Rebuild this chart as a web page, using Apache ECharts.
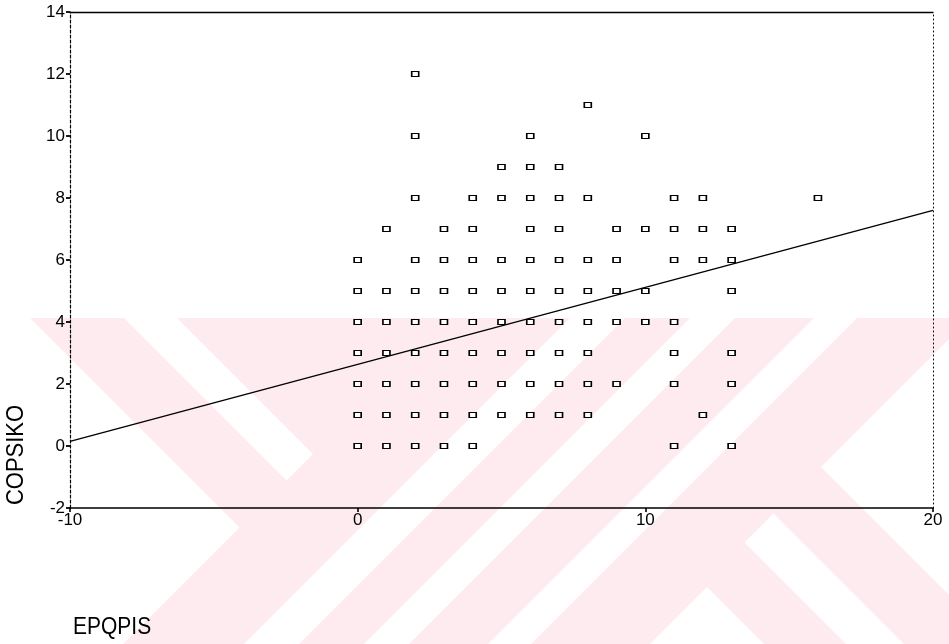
<!DOCTYPE html>
<html><head><meta charset="utf-8">
<script src="https://cdn.jsdelivr.net/npm/echarts@6/dist/echarts.min.js"></script>
<style>html,body{margin:0;padding:0;background:#fff}#c{width:949px;height:644px}</style>
</head><body><div id="c"></div>
<script>
// COPSIKO level (y) for each row of points, and the EPQPIS values (x) found on that row
const copsikoLevels = [12, 11, 10, 9, 8, 7, 6, 5, 4, 3, 2, 1, 0];
const epqpisAtLevel = [
  [2],
  [8],
  [2, 6, 10],
  [5, 6, 7],
  [2, 4, 5, 6, 7, 8, 11, 12, 16],
  [1, 3, 4, 6, 7, 9, 10, 11, 12, 13],
  [0, 2, 3, 4, 5, 6, 7, 8, 9, 11, 12, 13],
  [0, 1, 2, 3, 4, 5, 6, 7, 8, 9, 10, 13],
  [0, 1, 2, 3, 4, 5, 6, 7, 8, 9, 10, 11],
  [0, 1, 2, 3, 4, 5, 6, 7, 8, 11, 13],
  [0, 1, 2, 3, 4, 5, 6, 7, 8, 9, 11, 13],
  [0, 1, 2, 3, 4, 5, 6, 7, 8, 12],
  [0, 1, 2, 3, 4, 11, 13]
];
// fitted regression line end points
const fitX = [-10, 20];
const fitY = [0.15, 7.6];
const xLabelName = 'EPQPIS';
const yLabelName = 'COPSIKO';

const scatterData = [];
copsikoLevels.forEach((lv, i) => epqpisAtLevel[i].forEach(x => scatterData.push([x, lv])));
const lineData = fitX.map((x, i) => [x, fitY[i]]);

// ---- background watermark (decoration) ----
const R = {x0: 0, y0: 318, x1: 949, y1: 644};
function atX(a, b, x) { return [x, a[1] + (b[1] - a[1]) * (x - a[0]) / (b[0] - a[0])]; }
function atY(a, b, y) { return [a[0] + (b[0] - a[0]) * (y - a[1]) / (b[1] - a[1]), y]; }
function clipPoly(pts) {
  const tests = [p => p[0] >= R.x0, p => p[0] <= R.x1, p => p[1] >= R.y0, p => p[1] <= R.y1];
  const cuts = [(a, b) => atX(a, b, R.x0), (a, b) => atX(a, b, R.x1), (a, b) => atY(a, b, R.y0), (a, b) => atY(a, b, R.y1)];
  let out = pts;
  for (let e = 0; e < 4; e++) {
    const inp = out; out = [];
    for (let i = 0; i < inp.length; i++) {
      const cur = inp[i], prev = inp[(i + inp.length - 1) % inp.length];
      const ci = tests[e](cur), pi = tests[e](prev);
      if (ci) { if (!pi) out.push(cuts[e](prev, cur)); out.push(cur); }
      else if (pi) out.push(cuts[e](prev, cur));
    }
    if (!out.length) break;
  }
  return out;
}
// a = x - (y-318), b = x + (y-318)
function I(a, b) { const t = (b - a) / 2; return [(a + b) / 2, 318 + t]; }
function add(p, dx, dy) { return [p[0] + dx, p[1] + dy]; }
const K = 1200;
function slashBand(b1, b2) { return [[b1 + K, 318 - K], [b2 + K, 318 - K], [b2 - K, 318 + K], [b1 - K, 318 + K]]; }
const whitePolys = [
  [I(30, 449), add(I(30, 449), -K, -K), add(I(30, 449), -K, K)],
  [I(124, 449), I(177, 449), add(I(177, 449), -K, -K), add(I(124, 449), -K, -K)],
  slashBand(570, 625),
  slashBand(690, 735),
  slashBand(814, 857),
  [I(438, 976), add(I(438, 976), K, K), add(I(438, 976), -K, K)],
  [I(520, 969), I(578, 969), add(I(578, 969), K, K), add(I(520, 969), K, K)],
  [I(672, 970), add(I(672, 970), K, -K), add(I(672, 970), K, K)]
];
const wmElements = [{type: 'rect', z: -3, silent: true, shape: {x: R.x0, y: R.y0, width: R.x1 - R.x0, height: R.y1 - R.y0}, style: {fill: '#fdebef'}}];
whitePolys.forEach(p => {
  const c = clipPoly(p);
  if (c.length > 2) wmElements.push({type: 'polygon', z: -2, silent: true, shape: {points: c}, style: {fill: '#ffffff'}});
});

const FONT = 'Liberation Sans';
const chart = echarts.init(document.getElementById('c'), null, {renderer: 'canvas'});
chart.setOption({
  backgroundColor: '#ffffff',
  animation: false,
  grid: {left: 70, right: 16, top: 12, bottom: 136, containLabel: false},
  xAxis: [
    {type: 'value', min: -10, max: 20, interval: 10, position: 'bottom',
      axisLine: {show: true, onZero: false, lineStyle: {color: '#000', width: 1.6}},
      axisTick: {show: true, length: 4, lineStyle: {color: '#000', width: 1.6}},
      axisLabel: {color: '#000', fontSize: 17, fontFamily: FONT, margin: 4},
      splitLine: {show: false}},
    {type: 'value', min: -10, max: 20, interval: 10, position: 'top',
      axisLine: {show: true, onZero: false, lineStyle: {color: '#000', width: 1.3}},
      axisTick: {show: false}, axisLabel: {show: false}, splitLine: {show: false}}
  ],
  yAxis: [
    {type: 'value', min: -2, max: 14, interval: 2, position: 'left',
      axisLine: {show: true, onZero: false, lineStyle: {color: '#000', width: 1.2, type: [3, 2]}},
      axisTick: {show: true, length: 4, lineStyle: {color: '#000', width: 1.8}},
      axisLabel: {color: '#000', fontSize: 17, fontFamily: FONT, margin: 5},
      splitLine: {show: false}},
    {type: 'value', min: -2, max: 14, interval: 2, position: 'right',
      axisLine: {show: true, onZero: false, lineStyle: {color: '#000', width: 1, type: [1, 3]}},
      axisTick: {show: false}, axisLabel: {show: false}, splitLine: {show: false}}
  ],
  graphic: wmElements.concat([
    {type: 'text', z: 10, x: 16, y: 455, rotation: Math.PI / 2, scaleY: 1.12,
      style: {text: yLabelName, fill: '#000', font: '22px "Liberation Sans"', align: 'center', verticalAlign: 'middle'}},
    {type: 'text', z: 10, x: 73, y: 628, scaleY: 1.12,
      style: {text: xLabelName, fill: '#000', font: '21px "Liberation Sans"', align: 'left', verticalAlign: 'middle'}}
  ]),
  series: [
    {type: 'scatter', xAxisIndex: 0, yAxisIndex: 0, data: scatterData,
      symbol: 'rect', symbolSize: [7, 5],
      itemStyle: {color: '#ffffff', borderColor: '#000', borderWidth: 1.4, opacity: 1},
      z: 4},
    {type: 'line', xAxisIndex: 0, yAxisIndex: 0, data: lineData, showSymbol: false,
      lineStyle: {color: '#000', width: 1.4}, z: 3}
  ]
});
</script></body></html>
